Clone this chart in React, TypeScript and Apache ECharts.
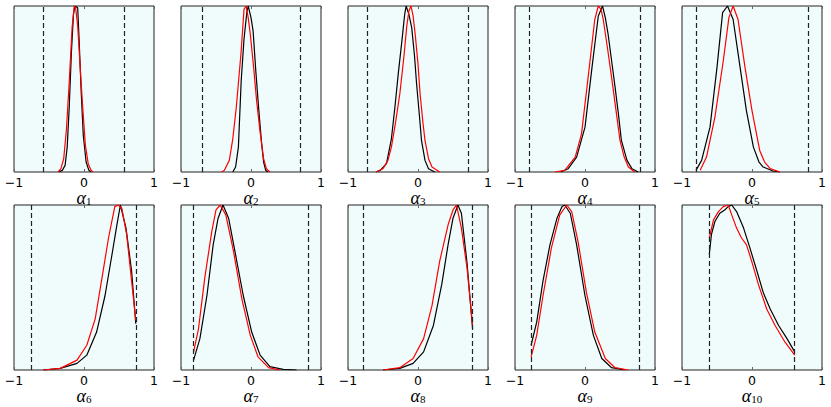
import React, { useEffect, useRef } from "react";
import * as echarts from "echarts";

// Curve values (x, normalised density)
const black1 = [[-0.36,0],[-0.31,0.01],[-0.27,0.04],[-0.24,0.15],[-0.21,0.4],[-0.18,0.72],[-0.15,0.95],[-0.13,1],[-0.09,0.99],[-0.07,0.8],[-0.04,0.48],[-0.01,0.22],[0.03,0.06],[0.07,0.01],[0.1,0]];
const red1 = [[-0.37,0],[-0.33,0.02],[-0.29,0.08],[-0.25,0.26],[-0.21,0.55],[-0.17,0.87],[-0.14,1],[-0.12,0.99],[-0.09,0.88],[-0.05,0.6],[-0.02,0.4],[0.02,0.16],[0.06,0.05],[0.1,0.01],[0.13,0]];
const black2 = [[-0.26,0],[-0.22,0.03],[-0.18,0.15],[-0.14,0.55],[-0.1,0.8],[-0.06,0.96],[-0.04,1],[0,0.93],[0.03,0.85],[0.07,0.6],[0.11,0.38],[0.15,0.18],[0.18,0.06],[0.21,0.01],[0.24,0]];
const red2 = [[-0.42,0],[-0.38,0.01],[-0.31,0.07],[-0.26,0.2],[-0.21,0.39],[-0.14,0.73],[-0.1,0.98],[-0.07,1],[-0.04,0.93],[-0.01,0.83],[0.04,0.62],[0.08,0.43],[0.13,0.24],[0.18,0.08],[0.22,0.02],[0.27,0]];
const black3 = [[-0.6,0],[-0.54,0.01],[-0.45,0.05],[-0.38,0.2],[-0.33,0.39],[-0.28,0.6],[-0.23,0.79],[-0.19,0.95],[-0.17,1],[-0.13,0.95],[-0.09,0.87],[-0.05,0.7],[-0.02,0.53],[0.02,0.34],[0.05,0.19],[0.1,0.07],[0.15,0.02],[0.24,0]];
const red3 = [[-0.6,0],[-0.5,0.02],[-0.43,0.07],[-0.38,0.15],[-0.32,0.3],[-0.26,0.47],[-0.2,0.7],[-0.16,0.88],[-0.13,0.97],[-0.1,1],[-0.07,0.94],[-0.04,0.83],[0,0.65],[0.03,0.47],[0.07,0.3],[0.1,0.19],[0.15,0.08],[0.2,0.03],[0.31,0]];
const black4 = [[-0.35,0],[-0.24,0.02],[-0.12,0.09],[0,0.27],[0.1,0.63],[0.19,0.94],[0.25,1],[0.29,0.93],[0.33,0.83],[0.38,0.67],[0.43,0.51],[0.48,0.34],[0.52,0.19],[0.6,0.07],[0.67,0.02],[0.76,0]];
const red4 = [[-0.43,0],[-0.29,0.01],[-0.14,0.09],[-0.05,0.23],[0.05,0.59],[0.14,0.92],[0.19,1],[0.23,0.98],[0.26,0.92],[0.32,0.75],[0.38,0.57],[0.44,0.38],[0.5,0.19],[0.56,0.09],[0.62,0.03],[0.71,0]];
const black5 = [[-0.8,0.01],[-0.72,0.07],[-0.6,0.27],[-0.5,0.63],[-0.42,0.96],[-0.35,1],[-0.27,0.92],[-0.17,0.63],[-0.08,0.37],[0.02,0.15],[0.1,0.06],[0.16,0.03],[0.3,0.006],[0.4,0]];
const red5 = [[-0.74,0.01],[-0.65,0.09],[-0.53,0.33],[-0.41,0.67],[-0.33,0.93],[-0.27,1],[-0.2,0.92],[-0.1,0.63],[0,0.37],[0.11,0.13],[0.18,0.06],[0.26,0.02],[0.4,0]];
const black6 = [[-0.58,0],[-0.34,0.01],[-0.1,0.04],[0.04,0.09],[0.18,0.23],[0.3,0.45],[0.4,0.7],[0.47,0.88],[0.52,1],[0.6,0.86],[0.68,0.6],[0.74,0.28]];
const red6 = [[-0.58,0],[-0.34,0.01],[-0.1,0.06],[0.04,0.15],[0.16,0.31],[0.25,0.54],[0.35,0.8],[0.44,0.99],[0.49,1],[0.54,0.98],[0.61,0.82],[0.68,0.54],[0.74,0.3]];
const black7 = [[-0.82,0.06],[-0.73,0.19],[-0.63,0.45],[-0.54,0.76],[-0.47,0.92],[-0.4,1],[-0.32,0.92],[-0.23,0.72],[-0.11,0.45],[0.01,0.23],[0.13,0.09],[0.27,0.02],[0.46,0.004],[0.65,0]];
const red7 = [[-0.82,0.11],[-0.75,0.25],[-0.66,0.56],[-0.56,0.84],[-0.5,0.97],[-0.44,1],[-0.36,0.94],[-0.25,0.72],[-0.13,0.43],[-0.01,0.21],[0.1,0.08],[0.25,0.014],[0.41,0]];
const black8 = [[-0.5,0],[-0.26,0.01],[-0.07,0.04],[0.08,0.11],[0.22,0.27],[0.34,0.52],[0.43,0.76],[0.5,0.92],[0.57,1],[0.62,0.95],[0.7,0.65],[0.78,0.25]];
const red8 = [[-0.5,0],[-0.26,0.014],[-0.07,0.07],[0.08,0.19],[0.2,0.39],[0.31,0.66],[0.43,0.88],[0.5,0.97],[0.55,1],[0.62,0.86],[0.7,0.62],[0.78,0.27]];
const black9 = [[-0.77,0.15],[-0.69,0.29],[-0.6,0.54],[-0.5,0.76],[-0.4,0.92],[-0.33,0.99],[-0.29,1],[-0.21,0.95],[-0.12,0.76],[0,0.45],[0.12,0.21],[0.24,0.07],[0.38,0.014],[0.57,0]];
const red9 = [[-0.77,0.08],[-0.69,0.21],[-0.6,0.45],[-0.48,0.74],[-0.36,0.94],[-0.26,1],[-0.19,0.96],[-0.1,0.78],[0.02,0.47],[0.14,0.23],[0.29,0.07],[0.43,0.014],[0.62,0]];
const black10 = [[-0.61,0.7],[-0.58,0.82],[-0.53,0.9],[-0.46,0.95],[-0.39,0.97],[-0.34,0.99],[-0.29,1],[-0.22,0.96],[-0.12,0.86],[-0.03,0.74],[0.07,0.6],[0.16,0.47],[0.26,0.37],[0.38,0.27],[0.5,0.19],[0.61,0.11]];
const red10 = [[-0.61,0.8],[-0.55,0.91],[-0.48,0.96],[-0.41,0.99],[-0.34,1],[-0.29,0.94],[-0.22,0.86],[-0.15,0.8],[-0.08,0.76],[-0.005,0.66],[0.09,0.52],[0.21,0.37],[0.33,0.27],[0.47,0.17],[0.61,0.09]];

const blackCurves = [black1, black2, black3, black4, black5, black6, black7, black8, black9, black10];
const redCurves = [red1, red2, red3, red4, red5, red6, red7, red8, red9, red10];
const bounds = [0.58, 0.7, 0.72, 0.79, 0.8, 0.75, 0.82, 0.78, 0.77, 0.61];
const subscripts = ["1", "2", "3", "4", "5", "6", "7", "8", "9", "10"];
const xTicks = { min: -1, max: 1, step: 1 };

export default function App() {
  const ref = useRef<HTMLDivElement>(null);
  useEffect(() => {
    document.body.style.margin = "0";
    const chart = echarts.init(ref.current!, null, { renderer: "svg" });
    const grid: any[] = [];
    const xAxis: any[] = [];
    const yAxis: any[] = [];
    const series: any[] = [];
    const graphic: any[] = [];
    const fmt = (v: number) => (v < 0 ? "\u2212" + Math.abs(v) : String(v));
    for (let i = 0; i < 10; i++) {
      const row = i < 5 ? 0 : 1;
      const col = i % 5;
      const left = 14 + col * 167;
      grid.push({
        left,
        top: row ? 205 : 6,
        width: 140,
        height: row ? 165 : 166,
        show: true,
        backgroundColor: "#f0fbfb",
        borderColor: "#222",
        borderWidth: 1,
      });
      graphic.push({
        type: "text",
        x: left + 70,
        y: row ? 396 : 198,
        style: {
          text: "{a|\u03b1}{s|" + subscripts[i] + "}",
          align: "center",
          verticalAlign: "middle",
          rich: {
            a: { fontSize: 18, lineHeight: 14, fontStyle: "italic", fontFamily: "Liberation Serif", fill: "#000" },
            s: { fontSize: 11, lineHeight: 10, fontFamily: "Liberation Serif", fill: "#000", padding: [6, 0, 0, 0] },
          },
        },
      });
      xAxis.push({
        gridIndex: i,
        type: "value",
        min: xTicks.min,
        max: xTicks.max,
        interval: xTicks.step,
        axisLine: { show: false },
        axisTick: { inside: true, length: 3, lineStyle: { color: "#666" } },
        splitLine: { show: false },
        axisLabel: {
          fontSize: 12.5,
          lineHeight: 12,
          color: "#000",
          fontFamily: "DejaVu Sans",
          margin: 4,
          formatter: fmt,
          showMinLabel: true,
          showMaxLabel: true,
        },
      });
      xAxis.push({
        gridIndex: i,
        type: "value",
        position: "top",
        min: xTicks.min,
        max: xTicks.max,
        interval: xTicks.step,
        axisLine: { show: false },
        axisTick: { inside: true, length: 3, lineStyle: { color: "#666" } },
        splitLine: { show: false },
        axisLabel: { show: false },
      });
      yAxis.push({ gridIndex: i, type: "value", min: 0, max: 1, show: false });
      series.push({
        type: "line",
        xAxisIndex: i * 2,
        yAxisIndex: i,
        data: blackCurves[i],
        showSymbol: false,
        symbol: "none",
        lineStyle: { color: "#000", width: 1.2 },
        markLine: {
          silent: true,
          symbol: ["none", "none"],
          label: { show: false },
          lineStyle: { type: [5, 3], color: "#222", width: 1.2 },
          data: [{ xAxis: -bounds[i] }, { xAxis: bounds[i] }],
        },
      });
      series.push({
        type: "line",
        xAxisIndex: i * 2,
        yAxisIndex: i,
        data: redCurves[i],
        showSymbol: false,
        symbol: "none",
        lineStyle: { color: "#ff0000", width: 1.2 },
      });
    }
    chart.setOption({ animation: false, grid, xAxis, yAxis, series, graphic });
    return () => chart.dispose();
  }, []);
  return <div ref={ref} style={{ width: 831, height: 407 }} />;
}
